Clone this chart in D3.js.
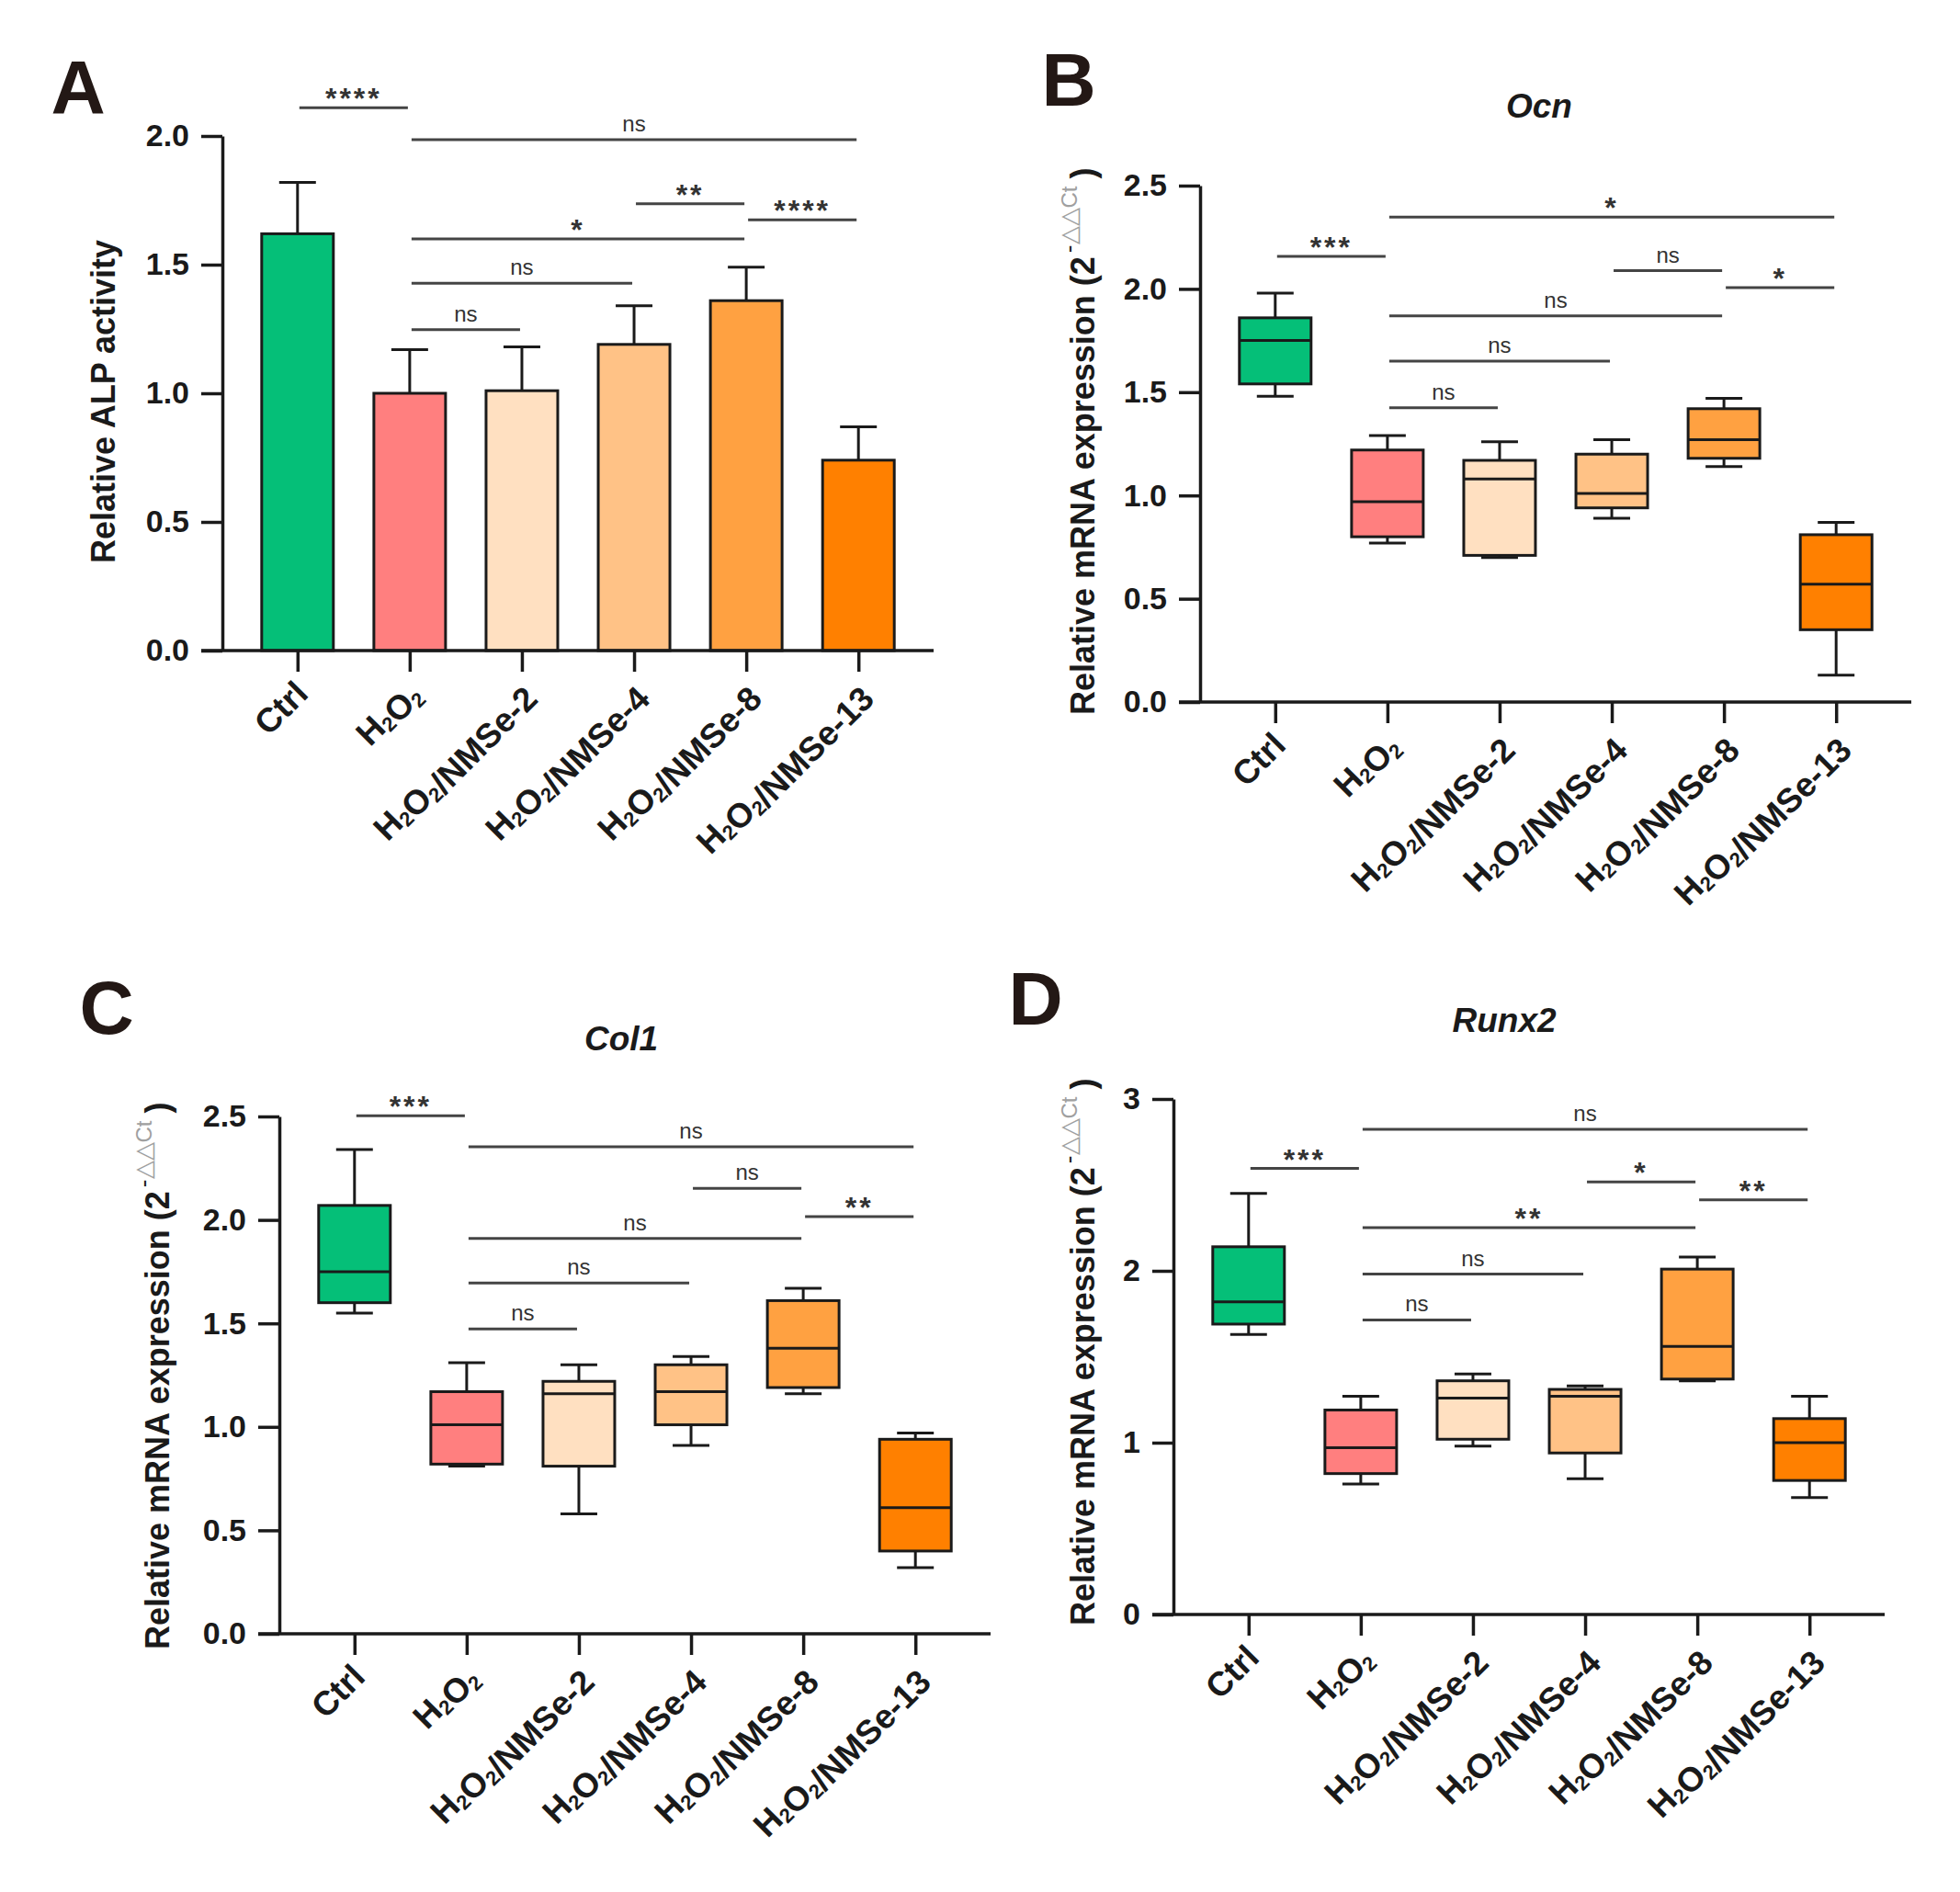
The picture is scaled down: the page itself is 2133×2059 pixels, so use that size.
<!DOCTYPE html>
<html>
<head>
<meta charset="utf-8">
<script src="https://cdn.jsdelivr.net/npm/d3@7"></script>
<style>
  body { margin: 0; background: #fff; }
  text { font-family: "Liberation Sans", Arial, Helvetica, sans-serif; }
</style>
</head>
<body>
<div id="chart"></div>
<script>
// ---- data ----
const groups = ["Ctrl", "H2O2", "H2O2/NMSe-2", "H2O2/NMSe-4", "H2O2/NMSe-8", "H2O2/NMSe-13"];
const groupColors = ["#05bf78", "#ff7f7f", "#ffe0c1", "#ffc286", "#ffa141", "#ff8000"];

// A: relative ALP activity, mean and error
const alpMean = [1.62, 1.00, 1.01, 1.19, 1.36, 0.74];
const alpErr  = [0.20, 0.17, 0.17, 0.15, 0.13, 0.13];

// B-D: box plots [min, q1, median, q3, max]
const ocnBox = [
  [1.48, 1.54, 1.75, 1.86, 1.98],
  [0.77, 0.80, 0.97, 1.22, 1.29],
  [0.70, 0.71, 1.08, 1.17, 1.26],
  [0.89, 0.94, 1.01, 1.20, 1.27],
  [1.14, 1.18, 1.27, 1.42, 1.47],
  [0.13, 0.35, 0.57, 0.81, 0.87]
];
const col1Box = [
  [1.55, 1.60, 1.75, 2.07, 2.34],
  [0.81, 0.82, 1.01, 1.17, 1.31],
  [0.58, 0.81, 1.16, 1.22, 1.30],
  [0.91, 1.01, 1.17, 1.30, 1.34],
  [1.16, 1.19, 1.38, 1.61, 1.67],
  [0.32, 0.40, 0.61, 0.94, 0.97]
];
const runx2Box = [
  [1.63, 1.69, 1.82, 2.14, 2.45],
  [0.76, 0.82, 0.97, 1.19, 1.27],
  [0.98, 1.02, 1.26, 1.36, 1.40],
  [0.79, 0.94, 1.27, 1.31, 1.33],
  [1.36, 1.37, 1.56, 2.01, 2.08],
  [0.68, 0.78, 1.00, 1.14, 1.27]
];

// significance brackets: [from group, to group, height in data units, label]
const alpSig = [[0, 1, 2.11, "****"], [1, 5, 1.986, "ns"], [3, 4, 1.737, "**"], [4, 5, 1.674, "****"],
                [1, 4, 1.60, "*"], [1, 3, 1.428, "ns"], [1, 2, 1.247, "ns"]];
const ocnSig = [[0, 1, 2.158, "***"], [1, 5, 2.348, "*"], [3, 4, 2.088, "ns"], [4, 5, 2.006, "*"],
                [1, 4, 1.869, "ns"], [1, 3, 1.65, "ns"], [1, 2, 1.425, "ns"]];
const col1Sig = [[0, 1, 2.503, "***"], [1, 5, 2.354, "ns"], [3, 4, 2.153, "ns"], [4, 5, 2.016, "**"],
                 [1, 4, 1.911, "ns"], [1, 3, 1.695, "ns"], [1, 2, 1.473, "ns"]];
const runx2Sig = [[0, 1, 2.596, "***"], [1, 5, 2.824, "ns"], [3, 4, 2.518, "*"], [4, 5, 2.413, "**"],
                  [1, 4, 2.251, "**"], [1, 3, 1.981, "ns"], [1, 2, 1.714, "ns"]];

const ticks25 = [0, 0.5, 1.0, 1.5, 2.0, 2.5];
const ticks20 = [0, 0.5, 1.0, 1.5, 2.0];
const ticks3 = [0, 1, 2, 3];

// ---- layout ----
const W = 2133, H = 2059;
const ink = "#1a1a1a";
const svg = d3.select("#chart").append("svg")
  .attr("width", W).attr("height", H)
  .style("background", "#fff");

const panels = [
  { letter: "A", lx: 85, ly: 123, left: 242, right: 1016, y0: 708, yTop: 148, max: 2, ticks: ticks20, fmt: d3.format(".1f"),
    kind: "bar", sig: alpSig, ylab: "Relative ALP activity", labX: 125, labY: 437 },
  { letter: "B", lx: 1163, ly: 115, left: 1306, right: 2080, y0: 764, yTop: 202, max: 2.5, ticks: ticks25, fmt: d3.format(".1f"),
    kind: "box", boxes: ocnBox, sig: ocnSig, title: "Ocn", tx: 1675, ty: 128, labX: 1191, labY: 778 },
  { letter: "C", lx: 116, ly: 1125, left: 304, right: 1078, y0: 1778, yTop: 1215, max: 2.5, ticks: ticks25, fmt: d3.format(".1f"),
    kind: "box", boxes: col1Box, sig: col1Sig, title: "Col1", tx: 676, ty: 1143, labX: 184, labY: 1795 },
  { letter: "D", lx: 1127, ly: 1115, left: 1277, right: 2051, y0: 1757, yTop: 1196, max: 3, ticks: ticks3, fmt: d3.format("d"),
    kind: "box", boxes: runx2Box, sig: runx2Sig, title: "Runx2", tx: 1637, ty: 1123, labX: 1191, labY: 1769 }
];

// writes "H2O2/NMSe-2" with the 2 after H and O as subscript
function chemLabel(sel, str) {
  sel.text(null);
  let buf = "";
  for (let i = 0; i < str.length; i++) {
    const c = str[i];
    if (c === "2" && (str[i - 1] === "H" || str[i - 1] === "O")) {
      if (buf) { sel.append("tspan").text(buf); buf = ""; }
      sel.append("tspan").attr("font-size", 22).attr("dy", 4).text("2");
      sel.append("tspan").attr("dy", -4).text("");
    } else {
      buf += c;
    }
  }
  if (buf) sel.append("tspan").text(buf);
}

panels.forEach(function (p) {
  const g = svg.append("g");
  const x = d3.scalePoint().domain(groups).range([p.left, p.right]).padding(0.67);
  const y = d3.scaleLinear().domain([0, p.max]).range([p.y0, p.yTop]);

  // marks
  if (p.kind === "bar") {
    const bars = g.selectAll(".bar").data(groups).enter().append("g");
    bars.append("line")
      .attr("x1", d => x(d)).attr("x2", d => x(d))
      .attr("y1", (d, i) => y(alpMean[i])).attr("y2", (d, i) => y(alpMean[i] + alpErr[i]))
      .attr("stroke", ink).attr("stroke-width", 3);
    bars.append("line")
      .attr("x1", d => x(d) - 20).attr("x2", d => x(d) + 20)
      .attr("y1", (d, i) => y(alpMean[i] + alpErr[i])).attr("y2", (d, i) => y(alpMean[i] + alpErr[i]))
      .attr("stroke", ink).attr("stroke-width", 3);
    bars.append("rect")
      .attr("x", d => x(d) - 39).attr("width", 78)
      .attr("y", (d, i) => y(alpMean[i])).attr("height", (d, i) => y(0) - y(alpMean[i]))
      .attr("fill", (d, i) => groupColors[i])
      .attr("stroke", ink).attr("stroke-width", 3);
  } else {
    const bx = g.selectAll(".box").data(groups).enter().append("g");
    const b = (i) => p.boxes[i];
    bx.append("line")
      .attr("x1", d => x(d)).attr("x2", d => x(d))
      .attr("y1", (d, i) => y(b(i)[4])).attr("y2", (d, i) => y(b(i)[0]))
      .attr("stroke", ink).attr("stroke-width", 3);
    [0, 4].forEach(function (k) {
      bx.append("line")
        .attr("x1", d => x(d) - 20).attr("x2", d => x(d) + 20)
        .attr("y1", (d, i) => y(b(i)[k])).attr("y2", (d, i) => y(b(i)[k]))
        .attr("stroke", ink).attr("stroke-width", 3);
    });
    bx.append("rect")
      .attr("x", d => x(d) - 39).attr("width", 78)
      .attr("y", (d, i) => y(b(i)[3])).attr("height", (d, i) => y(b(i)[1]) - y(b(i)[3]))
      .attr("fill", (d, i) => groupColors[i])
      .attr("stroke", ink).attr("stroke-width", 3);
    bx.append("line")
      .attr("x1", d => x(d) - 39).attr("x2", d => x(d) + 39)
      .attr("y1", (d, i) => y(b(i)[2])).attr("y2", (d, i) => y(b(i)[2]))
      .attr("stroke", ink).attr("stroke-width", 3);
  }

  // y axis
  const yAxis = g.append("g").attr("transform", `translate(${p.left},0)`)
    .call(d3.axisLeft(y).tickValues(p.ticks).tickFormat(p.fmt).tickSize(23).tickSizeOuter(0).tickPadding(13));
  yAxis.selectAll("path, line").attr("stroke", ink).attr("stroke-width", 3.5);
  yAxis.selectAll("text").attr("font-size", 34).attr("font-weight", "bold").attr("fill", ink)
    .attr("font-family", "'Liberation Sans', Arial, sans-serif");

  // x axis
  const xAxis = g.append("g").attr("transform", `translate(0,${p.y0})`)
    .call(d3.axisBottom(x).tickSize(23).tickSizeOuter(0));
  xAxis.select(".domain").attr("d", `M${p.left - 23},0H${p.right}`);
  xAxis.selectAll("path, line").attr("stroke", ink).attr("stroke-width", 3.5);
  xAxis.selectAll(".tick text")
    .attr("x", 0).attr("y", 0).attr("dy", 0)
    .attr("transform", "translate(13,49) rotate(-45)")
    .attr("text-anchor", "end")
    .attr("font-size", 37).attr("font-weight", "bold").attr("fill", ink)
    .attr("font-family", "'Liberation Sans', Arial, sans-serif")
    .each(function (d) { chemLabel(d3.select(this), d); });

  // significance brackets
  const s = g.selectAll(".sig").data(p.sig).enter().append("g");
  s.append("line")
    .attr("x1", d => x(groups[d[0]]) + 2).attr("x2", d => x(groups[d[1]]) - 2)
    .attr("y1", d => y(d[2])).attr("y2", d => y(d[2]))
    .attr("stroke", "#444").attr("stroke-width", 3);
  s.append("text")
    .attr("x", d => (x(groups[d[0]]) + x(groups[d[1]])) / 2)
    .attr("y", d => d[3] === "ns" ? y(d[2]) - 9 : y(d[2]) + 1)
    .attr("text-anchor", "middle")
    .attr("font-size", d => d[3] === "ns" ? 24 : 32)
    .attr("font-weight", d => d[3] === "ns" ? "normal" : "bold")
    .attr("letter-spacing", d => d[3] === "ns" ? 0 : 3)
    .attr("fill", "#333")
    .text(d => d[3]);

  // panel letter
  svg.append("text").attr("x", p.lx).attr("y", p.ly)
    .attr("text-anchor", "middle").attr("font-size", 82).attr("font-weight", "bold")
    .attr("fill", "#231815").text(p.letter);

  // title
  if (p.title) {
    svg.append("text").attr("x", p.tx).attr("y", p.ty)
      .attr("text-anchor", "middle").attr("font-size", 37).attr("font-weight", "bold")
      .attr("font-style", "italic").attr("fill", ink).text(p.title);
  }

  // y label
  if (p.kind === "bar") {
    svg.append("text")
      .attr("transform", `translate(${p.labX},${p.labY}) rotate(-90)`)
      .attr("text-anchor", "middle").attr("font-size", 36).attr("font-weight", "bold")
      .attr("fill", ink).text(p.ylab);
  } else {
    const t = svg.append("text")
      .attr("transform", `translate(${p.labX},${p.labY}) rotate(-90)`)
      .attr("text-anchor", "start").attr("font-size", 36).attr("font-weight", "bold")
      .attr("fill", ink);
    t.append("tspan").text("Relative mRNA expression (2");
    t.append("tspan").attr("dy", -19).attr("dx", 4).attr("font-size", 26).attr("font-weight", "normal").text("-");
    t.append("tspan").attr("font-size", 26).attr("font-weight", "normal").attr("fill", "#a0a0a0").text("\u25B3\u25B3");
    t.append("tspan").attr("font-size", 24).attr("font-weight", "normal").attr("fill", "#a0a0a0").text("Ct");
    t.append("tspan").attr("dy", 19).attr("dx", 8).text(")");
  }
});
</script>
</body>
</html>
